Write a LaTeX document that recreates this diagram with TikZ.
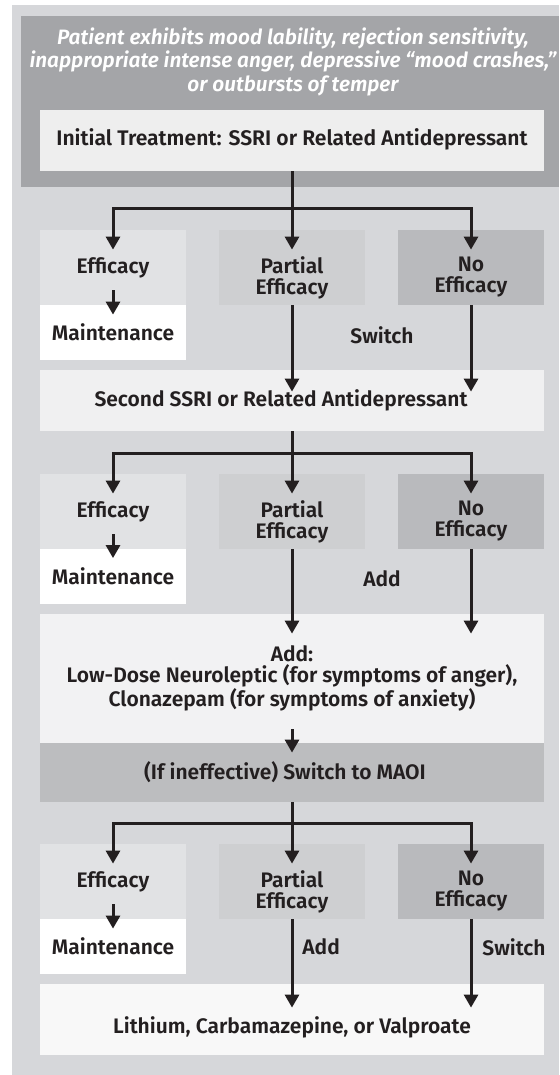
\documentclass[tikz,border=0pt]{standalone}
\usepackage{fontspec}
\setmainfont{Fira Sans}[BoldFont=* SemiBold, BoldItalicFont=* SemiBold Italic]
\usetikzlibrary{arrows.meta}
\definecolor{ink}{HTML}{231F20}
\definecolor{panel}{HTML}{D6D7DA}
\definecolor{headfill}{HTML}{A4A5A8}
\definecolor{initfill}{HTML}{EEEEEE}
\definecolor{efffill}{HTML}{E1E2E4}
\definecolor{parfill}{HTML}{CECFD1}
\definecolor{nofill}{HTML}{B9BABD}
\definecolor{ssrifill}{HTML}{F0F0F1}
\definecolor{addfill}{HTML}{F2F2F3}
\definecolor{maoifill}{HTML}{BCBDBF}
\definecolor{endfill}{HTML}{F8F8F8}

\begin{document}
\begin{tikzpicture}[x=0.5pt, y=-0.5pt, every node/.style={inner sep=0pt, align=center, text=ink, font=\bfseries\fontsize{10.5}{10.5}\selectfont}]
	\tikzset{
		box/.style={rectangle},
		wide/.style={box, minimum width=252pt},
		small/.style={box, minimum width=73pt, minimum height=37.5pt},
		maint/.style={box, fill=white, minimum width=73pt, minimum height=27.5pt},
		arr/.style={draw=ink, line width=1.5pt, line join=miter, -{Triangle[length=6.5pt,width=7pt]}}
	}
	\useasboundingbox (0,0) rectangle (559,1075);
	\fill[panel] (12,5) rectangle (559,1075);
	% top of the chart
	\node[box, fill=headfill, minimum width=269.15pt, minimum height=85.5pt] (head) at (289.85,101.5) {};
	\node[text=white, font=\bfseries\itshape\fontsize{10.4}{11.75}\selectfont] (patient) at (293,61.5)
		{Patient exhibits mood lability, rejection sensitivity,\\inappropriate intense anger, depressive “mood crashes,”\\or outbursts of temper};
	\node[wide, fill=initfill, minimum height=30.5pt] (init) at (292,140.5) {};
	\node[font=\bfseries\fontsize{10.55}{12}\selectfont] (initt) at (292,139.5) {Initial Treatment: SSRI or Related Antidepressant};
	% wide boxes
	\node[wide, fill=ssrifill, minimum height=30.5pt] (ssri2) at (292,400.5) {};
	\node (ssri2t) at (281,400) {Second SSRI or Related Antidepressant};
	\node[wide, fill=addfill, minimum height=64.5pt] (add) at (292,678.5)
		{Add:\\Low-Dose Neuroleptic (for symptoms of anger),\\Clonazepam (for symptoms of anxiety)};
	\node[wide, fill=maoifill, minimum height=29.5pt] (maoi) at (292,772.5) {};
	\node (maoit) at (285,772) {(If ineffective) Switch to MAOI};
	\node[wide, fill=endfill, minimum height=35.5pt] (final) at (292,1019.5) {};
	\node (finalt) at (292,1027) {Lithium, Carbamazepine, or Valproate};
	% three outcome rows
	\foreach \r/\y/\m/\src in {1/267.5/332.5/init, 2/511.5/576/ssri2, 3/881.5/946.5/maoi} {
		\node[small, fill=efffill] (eff\r) at (113,\y) {};
		\node (efft\r) at (113,\y+0.5) {Efficacy};
		\node[small, fill=parfill] (par\r) at (292,\y) {};
		\node (part\r) at (292,\y+10) {Partial\\Efficacy};
		\node[small, fill=nofill] (no\r) at (471,\y) {};
		\node (not\r) at (471,\y+10) {No\\Efficacy};
		\node[maint] (mnt\r) at (113,\m) {Maintenance};
		\coordinate (j\r) at (292,\y-58.5);
		\draw[arr] (\src.south) -- (j\r) -| ([yshift=-10pt]eff\r.north);
		\draw[arr] (j\r) -| ([yshift=-10pt]no\r.north);
		\draw[arr] (\src.south) -- ([yshift=-10pt]par\r.north);
		\draw[arr] ([yshift=7.5pt]eff\r.south) -- ([yshift=-5pt]mnt\r.north);
	}
	% onward arrows
	\coordinate (in1) at ([yshift=-11pt]ssri2.north);
	\coordinate (in2) at ([yshift=-10pt]add.north);
	\coordinate (in3) at ([yshift=-12pt]final.north);
	\foreach \r/\to in {1/in1, 2/in2, 3/in3} {
		\draw[arr] (par\r.south) -- (par\r.south |- \to);
		\draw[arr] (no\r.south) -- (no\r.south |- \to);
	}
	\draw[arr] ([yshift=7pt]add.south) -- ([yshift=-5pt]maoi.north);
	\node (switch1) at (382,335) {Switch};
	\node (add2) at (382,579) {Add};
	\node[anchor=west] (add3) at (302,947) {Add};
	\node[anchor=west] (switch3) at (482,947) {Switch};
\end{tikzpicture}
\end{document}
